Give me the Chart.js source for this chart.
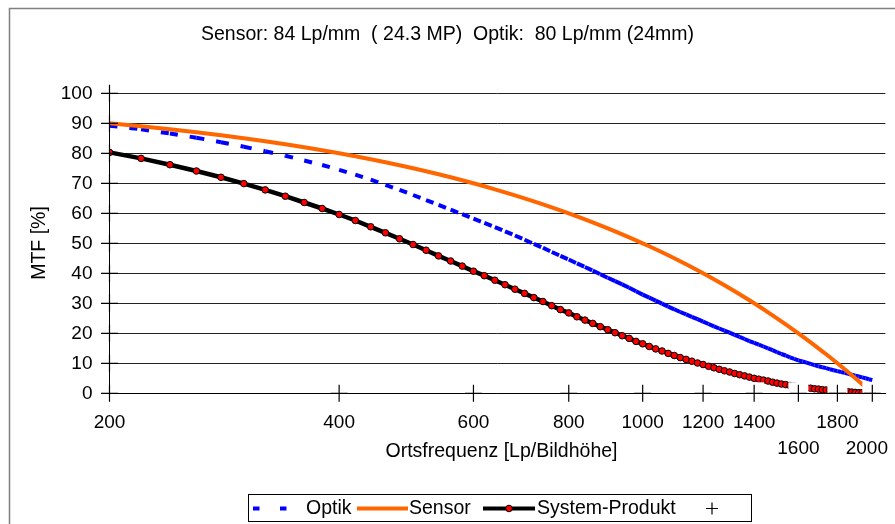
<!DOCTYPE html>
<html>
<head>
<meta charset="utf-8">
<script src="https://cdn.jsdelivr.net/npm/chart.js@4/dist/chart.umd.min.js"></script>
<style>
  html, body { margin: 0; padding: 0; background: #fff; }
  canvas { display: block; }
</style>
</head>
<body>
<canvas id="mtf" width="895" height="524"></canvas>
<script>
// Spatial frequency in line pairs per picture height
const freq = [
  200, 220, 240, 260, 280, 300, 320, 340, 360, 380,
  400, 420, 440, 460, 480, 500, 520, 540, 560, 580,
  600, 620, 640, 660, 680, 700, 720, 740, 760, 780,
  800, 820, 840, 860, 880, 900, 920, 940, 960, 980,
  1000, 1020, 1040, 1060, 1080, 1100, 1120, 1140, 1160, 1180,
  1200, 1220, 1240, 1260, 1280, 1300, 1320, 1340, 1360, 1380,
  1400, 1420, 1440, 1460, 1480, 1500, 1520, 1540, 1560, 1580,
  1600, 1620, 1640, 1660, 1680, 1700, 1720, 1740, 1760, 1780,
  1800, 1820, 1840, 1860, 1880, 1900, 1920, 1940, 1960, 1980,
  2000
];

// MTF of the lens in %
const optik = [
  89.2, 88.0, 86.6, 85.2, 83.7, 82.2, 80.7, 79.2, 77.6, 76.1,
  74.5, 72.9, 71.2, 69.5, 67.8, 66.1, 64.4, 62.8, 61.2, 59.7,
  58.2, 56.8, 55.4, 54.0, 52.6, 51.2, 49.8, 48.5, 47.1, 45.8,
  44.6, 43.3, 42.1, 40.9, 39.7, 38.5, 37.4, 36.3, 35.2, 34.0,
  32.9, 31.9, 30.9, 29.9, 28.9, 28.0, 27.1, 26.3, 25.5, 24.7,
  23.9, 23.1, 22.3, 21.6, 20.9, 20.2, 19.5, 18.8, 18.1, 17.4,
  16.8, 16.2, 15.6, 15.0, 14.4, 13.7, 13.1, 12.6, 12.0, 11.5,
  11.0, 10.6, 10.2, 9.8, 9.4, 9.0, 8.7, 8.4, 8.0, 7.7,
  7.4, 7.1, 6.8, 6.5, 6.2, 5.9, 5.6, 5.3, 5.0, 4.7,
  4.4
];

// MTF of the sensor in %
const sensor = [
  90, 89, 88, 87, 86, 85, 84, 83, 82, 81,
  80, 79, 78, 77, 76, 75, 74, 73, 72, 71,
  70, 69, 68, 67, 66, 65, 64, 63, 62, 61,
  60, 59, 58, 57, 56, 55, 54, 53, 52, 51,
  50, 49, 48, 47, 46, 45, 44, 43, 42, 41,
  40, 39, 38, 37, 36, 35, 34, 33, 32, 31,
  30, 29, 28, 27, 26, 25, 24, 23, 22, 21,
  20, 19, 18, 17, 16, 15, 14, 13, 12, 11,
  10, 9, 8, 7, 6, 5, 4, 3, 2, 1,
  0
];

// Combined system MTF in %
const systemProdukt = [
  80.3, 78.3, 76.2, 74.1, 72.0, 69.9, 67.8, 65.7, 63.6, 61.6,
  59.6, 57.6, 55.5, 53.5, 51.5, 49.6, 47.7, 45.8, 44.1, 42.4,
  40.7, 39.2, 37.7, 36.2, 34.7, 33.3, 31.9, 30.6, 29.2, 27.9,
  26.8, 25.5, 24.4, 23.3, 22.2, 21.2, 20.2, 19.2, 18.3, 17.3,
  16.5, 15.6, 14.8, 14.1, 13.3, 12.6, 11.9, 11.3, 10.7, 10.1,
  9.6, 9.0, 8.5, 8.0, 7.5, 7.1, 6.6, 6.2, 5.8, 5.4,
  5.0, 4.7, 4.4, 4.1, 3.7, 3.4, 3.1, 2.9, 2.6, 2.4,
  2.2, 2.0, 1.8, 1.7, 1.5, 1.4, 1.2, 1.1, 1.0, 0.8,
  0.7, 0.6, 0.5, 0.5, 0.4, 0.3, 0.2, 0.2, 0.1, 0.05,
  0
];

// Axis tick values
const xTicks = [200, 400, 600, 800, 1000, 1200, 1400, 1600, 1800, 2000];
const xTicksLowered = [1600, 2000];
const yTicks = [0, 10, 20, 30, 40, 50, 60, 70, 80, 90, 100];

const chartTitle = 'Sensor: 84 Lp/mm  ( 24.3 MP)  Optik:  80 Lp/mm (24mm)';
const xTitle = 'Ortsfrequenz [Lp/Bildhöhe]';
const yTitle = 'MTF [%]';
const seriesNames = ['Optik', 'Sensor', 'System-Produkt', '+'];

const FONT = '"Liberation Sans", Arial, sans-serif';
const pts = vals => freq.map((f, i) => ({ x: f, y: vals[i] }));
const plusPts = xTicks.map(v => ({ x: v, y: 0 }))
  .concat(yTicks.slice(1).map(v => ({ x: xTicks[0], y: v })));

const decor = {
  id: 'decor',
  beforeDraw(chart) {
    const { ctx, width, height } = chart;
    ctx.save();
    ctx.fillStyle = '#fff';
    ctx.fillRect(0, 0, width, height);
    ctx.restore();
  },
  beforeDatasetDraw(chart, args) {
    // white label backing behind the tick crosses
    if (args.index !== 3) return;
    const { ctx, chartArea } = chart;
    const xs = chart.scales.x;
    ctx.save();
    ctx.fillStyle = '#fff';
    xTicks.forEach(v => {
      const px = xs.getPixelForValue(v);
      const l = Math.max(px - 10, chartArea.left + 1);
      ctx.fillRect(l, chartArea.bottom - 11, px + 10 - l, 10.5);
    });
    ctx.restore();
  },
  afterDraw(chart) {
    const { ctx } = chart;
    const xs = chart.scales.x;
    ctx.save();
    ctx.fillStyle = '#000';
    ctx.textAlign = 'center';
    ctx.textBaseline = 'middle';

    ctx.font = '19.5px ' + FONT;
    ctx.fillText(chartTitle, 447.5, 35);

    ctx.font = '19.5px ' + FONT;
    ctx.fillText(xTitle, 501.5, 452);

    ctx.save();
    ctx.translate(40, 243);
    ctx.rotate(-Math.PI / 2);
    ctx.fillText(yTitle, 0, 0);
    ctx.restore();

    // x tick labels, two rows where they would collide
    ctx.font = '19px ' + FONT;
    xTicks.forEach(v => {
      const label = String(v);
      const w = ctx.measureText(label).width;
      let px = xs.getPixelForValue(v);
      px = Math.min(px, 888 - w / 2);
      const py = xTicksLowered.includes(v) ? 448.5 : 422.5;
      ctx.fillText(label, px, py);
    });

    // legend
    const L = { x: 248.5, y: 494.5, w: 503, h: 27 };
    const cy = 508.5;
    ctx.strokeStyle = '#000';
    ctx.lineWidth = 1;
    ctx.strokeRect(L.x, L.y, L.w, L.h);

    ctx.lineCap = 'butt';
    ctx.strokeStyle = '#0000ff';
    ctx.lineWidth = 4;
    ctx.setLineDash([6.5, 20.5]);
    ctx.beginPath(); ctx.moveTo(253, cy); ctx.lineTo(287, cy); ctx.stroke();
    ctx.setLineDash([]);

    ctx.strokeStyle = '#ff6600';
    ctx.beginPath(); ctx.moveTo(357, cy); ctx.lineTo(408, cy); ctx.stroke();

    ctx.strokeStyle = '#000';
    ctx.beginPath(); ctx.moveTo(483, cy); ctx.lineTo(535, cy); ctx.stroke();
    ctx.fillStyle = '#ff0000';
    ctx.lineWidth = 1;
    ctx.beginPath(); ctx.arc(509, cy, 3.3, 0, Math.PI * 2); ctx.fill(); ctx.stroke();

    ctx.lineWidth = 1.2;
    ctx.beginPath();
    ctx.moveTo(706, cy); ctx.lineTo(718, cy);
    ctx.moveTo(712, cy - 6); ctx.lineTo(712, cy + 6);
    ctx.stroke();

    ctx.fillStyle = '#000';
    ctx.textAlign = 'left';
    ctx.font = '19.5px ' + FONT;
    ctx.fillText(seriesNames[0], 306, cy);
    ctx.fillText(seriesNames[1], 409, cy);
    ctx.fillText(seriesNames[2], 537, cy);

    // outer frame
    ctx.strokeStyle = '#808080';
    ctx.lineWidth = 1.5;
    ctx.strokeRect(9.5, 8.5, 900, 540);
    ctx.restore();
  }
};

new Chart(document.getElementById('mtf'), {
  type: 'line',
  data: {
    datasets: [
      {
        label: seriesNames[0],
        data: pts(optik),
        borderColor: '#0000ff',
        borderWidth: 4,
        borderDash: [8, 12],
        borderCapStyle: 'butt',
        pointRadius: 0,
        order: 3,
        // dash pattern restarts at every sample point
        segment: { borderDashOffset: c => (c.p0DataIndex % 2) * 0.001 }
      },
      {
        label: seriesNames[1],
        data: pts(sensor),
        borderColor: '#ff6600',
        borderWidth: 4,
        pointRadius: 0,
        order: 2
      },
      {
        label: seriesNames[2],
        data: pts(systemProdukt),
        borderColor: '#000000',
        borderWidth: 4.5,
        pointRadius: 3.3,
        pointBorderWidth: 1,
        pointBackgroundColor: '#ff0000',
        pointBorderColor: '#000000',
        order: 1
      },
      {
        label: seriesNames[3],
        data: plusPts,
        showLine: false,
        pointStyle: 'cross',
        pointRadius: 8.5,
        pointBorderWidth: 1.2,
        pointBorderColor: '#000000',
        clip: false,
        order: 0
      }
    ]
  },
  options: {
    responsive: false,
    devicePixelRatio: 1,
    animation: false,
    events: [],
    layout: { padding: { top: 93.3, right: 4, bottom: 0, left: 0 } },
    elements: { line: { tension: 0 } },
    plugins: {
      legend: { display: false },
      title: { display: false },
      tooltip: { enabled: false }
    },
    scales: {
      x: {
        type: 'logarithmic',
        min: 200,
        max: 2080,
        bounds: 'data',
        offset: false,
        afterBuildTicks: s => { s.ticks = xTicks.map(v => ({ value: v })); },
        afterFit: s => { s.height = 130.7; },
        ticks: { display: false },
        grid: { display: false },
        border: { display: true, color: '#000', width: 1, z: 1 }
      },
      y: {
        type: 'linear',
        min: 0,
        max: 100,
        afterBuildTicks: s => { s.ticks = yTicks.map(v => ({ value: v })); },
        afterFit: s => { s.width = 109.5; },
        ticks: {
          color: '#000',
          padding: 17,
          font: { family: FONT, size: 19 }
        },
        grid: { color: '#222', lineWidth: 1, drawTicks: false },
        border: { display: true, color: '#000', width: 1 }
      }
    }
  },
  plugins: [decor]
});
</script>
</body>
</html>
